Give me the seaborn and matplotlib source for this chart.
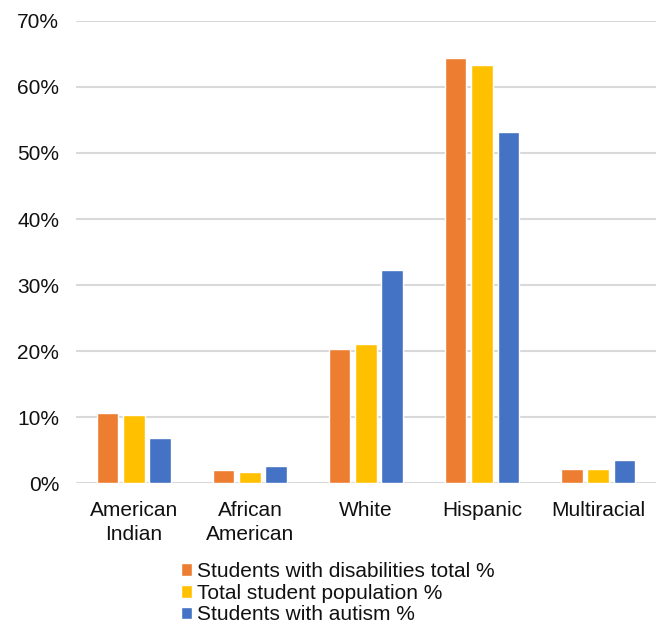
import matplotlib
matplotlib.use("Agg")
import matplotlib.pyplot as plt
import seaborn as sns
import pandas as pd
from matplotlib.ticker import PercentFormatter

categories = ["American\nIndian", "African\nAmerican", "White", "Hispanic", "Multiracial"]
series_names = ["Students with disabilities total %",
                "Total student population %",
                "Students with autism %"]
disabilities = [10.6, 2.0, 20.3, 64.3, 2.2]
population = [10.3, 1.8, 21.1, 63.3, 2.2]
autism = [6.8, 2.6, 32.3, 53.1, 3.5]
colors = ["#ED7D31", "#FFC000", "#4472C4"]

rows = []
for name, vals in zip(series_names, [disabilities, population, autism]):
    for cat, v in zip(categories, vals):
        rows.append({"Group": cat, "Series": name, "Value": v})
df = pd.DataFrame(rows)

sns.set_theme(style="white")
plt.rcParams["font.family"] = ["Liberation Sans", "DejaVu Sans"]

fig = plt.figure(figsize=(6.6, 6.27), dpi=100)
ax = fig.add_axes([0.115, 0.229, 0.879, 0.738])

sns.barplot(data=df, x="Group", y="Value", hue="Series", order=categories,
            hue_order=series_names, palette=colors, width=0.68, gap=0.18,
            saturation=1, ax=ax, errorbar=None)

ax.set_ylim(0, 70)
ax.set_yticks(range(0, 71, 10))
ax.yaxis.set_major_formatter(PercentFormatter(decimals=0))
ax.set_xlim(-0.5, 4.5)
ax.grid(axis="y", color="#d9d9d9", linewidth=1.5)
ax.set_axisbelow(True)
for s in ax.spines.values():
    s.set_visible(False)
ax.set_xlabel("")
ax.set_ylabel("")
ax.tick_params(axis="y", length=0, pad=12, labelsize=15, labelcolor="#111111")
ax.tick_params(axis="x", length=0, pad=13, labelsize=15, labelcolor="#111111")
for lbl in ax.get_xticklabels():
    lbl.set_linespacing(1.3)

handles, labels = ax.get_legend_handles_labels()
ax.get_legend().remove()
fig.legend(handles, labels, loc="lower center", bbox_to_anchor=(0.512, -0.009),
           ncol=1, frameon=False, fontsize=15, handlelength=0.55,
           handleheight=0.55, handletextpad=0.25, labelspacing=0.13,
           borderaxespad=0.0, labelcolor="#111111")

fig.savefig("out.png", dpi=100)
